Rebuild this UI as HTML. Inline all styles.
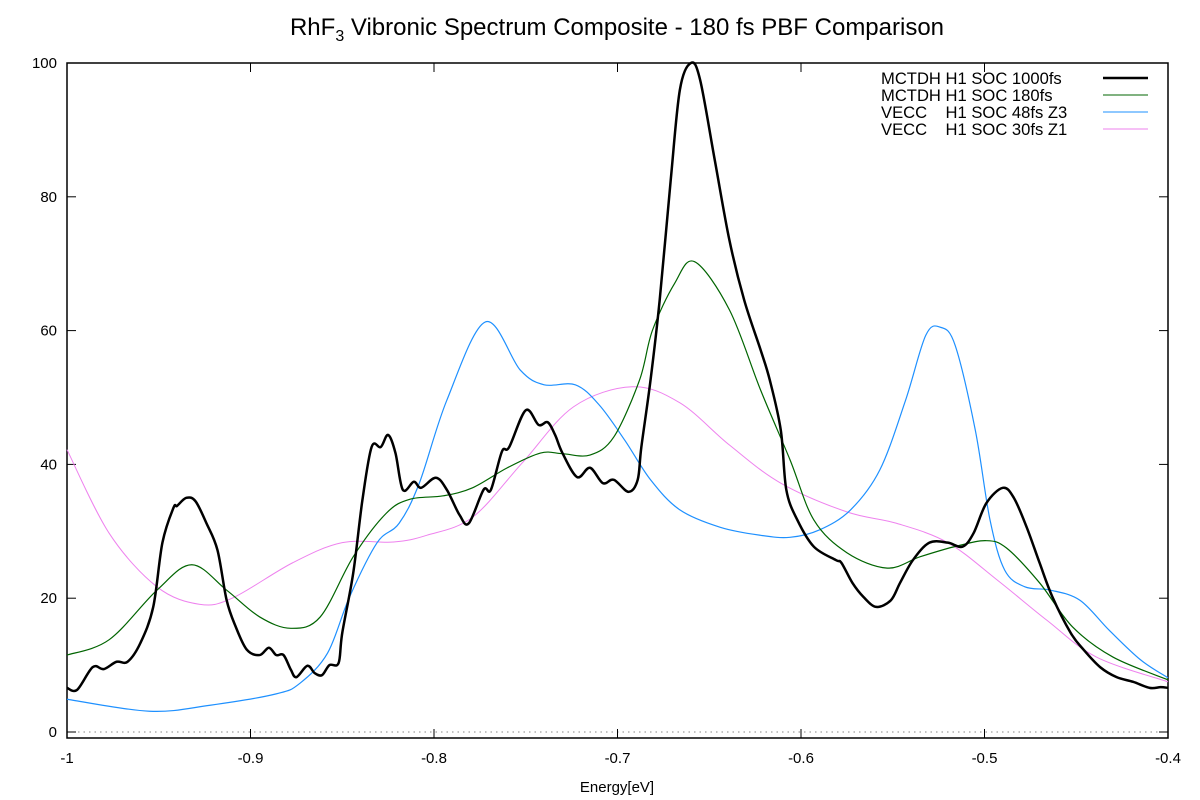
<!DOCTYPE html>
<html><head><meta charset="utf-8"><style>
body{margin:0;background:#fff}
svg{display:block;font-family:"Liberation Sans",sans-serif}
</style></head><body>
<svg id="chart" width="1200" height="800">
<text x="617" y="35" font-size="24" text-anchor="middle">RhF<tspan font-size="16" dy="6">3</tspan><tspan dy="-6"> Vibronic Spectrum Composite - 180 fs PBF Comparison</tspan></text>
<g id="axes"></g>
<g id="series"></g>
<g id="legend"></g>
<text x="617" y="792" font-size="15" text-anchor="middle">Energy[eV]</text>
</svg>
<script>
const xTicks=[-1,-0.9,-0.8,-0.7,-0.6,-0.5,-0.4];
const xTickLabels=["-1","-0.9","-0.8","-0.7","-0.6","-0.5","-0.4"];
const yTicks=[0,20,40,60,80,100];
const seriesNames=["MCTDH H1 SOC 1000fs","MCTDH H1 SOC 180fs","VECC    H1 SOC 48fs Z3","VECC    H1 SOC 30fs Z1"];
const blackE=[-1,-0.9945,-0.986,-0.980,-0.973,-0.967,-0.960,-0.953,-0.948,-0.942,-0.940,-0.935,-0.930,-0.924,-0.918,-0.913,-0.908,-0.902,-0.895,-0.890,-0.886,-0.882,-0.878,-0.875,-0.869,-0.865,-0.861,-0.857,-0.852,-0.850,-0.844,-0.839,-0.834,-0.829,-0.825,-0.821,-0.817,-0.811,-0.807,-0.799,-0.793,-0.786,-0.781,-0.773,-0.769,-0.763,-0.759,-0.750,-0.743,-0.738,-0.734,-0.730,-0.722,-0.715,-0.708,-0.702,-0.694,-0.689,-0.687,-0.682,-0.677,-0.671,-0.666,-0.660,-0.655,-0.647,-0.639,-0.631,-0.622,-0.617,-0.611,-0.608,-0.602,-0.593,-0.581,-0.578,-0.572,-0.566,-0.559,-0.551,-0.546,-0.539,-0.530,-0.520,-0.512,-0.506,-0.499,-0.490,-0.484,-0.477,-0.470,-0.463,-0.453,-0.446,-0.437,-0.428,-0.419,-0.410,-0.404,-0.400];
const blackV=[6.6,6.3,9.7,9.4,10.5,10.5,13.3,18.7,28.3,33.5,33.8,35.0,34.5,31.2,27.2,19.7,15.7,12.3,11.5,12.6,11.5,11.5,9.3,8.2,9.9,8.8,8.5,10.0,10.3,14.8,23.8,34.7,42.6,42.6,44.4,41.7,36.2,37.4,36.5,38.0,36.2,32.4,31.2,36.2,36.2,41.9,42.6,48.1,45.9,46.3,44.4,41.7,38.1,39.5,37.2,37.7,35.9,37.7,42.6,52.6,64.6,82.5,96.0,100,97.5,85.5,73.5,64.6,57.1,52.6,45.1,36.2,31.7,27.7,25.7,25.3,22.3,20.2,18.7,19.7,22.3,25.7,28.3,28.3,27.7,29.7,34.2,36.5,35.0,30.6,25.3,20.2,14.8,12.3,9.7,8.2,7.5,6.6,6.7,6.6];
const greenE=[-1,-0.977,-0.951,-0.932,-0.913,-0.895,-0.878,-0.862,-0.844,-0.826,-0.813,-0.795,-0.779,-0.760,-0.742,-0.730,-0.715,-0.702,-0.688,-0.681,-0.669,-0.658,-0.639,-0.622,-0.606,-0.593,-0.575,-0.553,-0.535,-0.515,-0.499,-0.488,-0.470,-0.452,-0.430,-0.400];
const greenV=[11.5,13.8,21.2,25.0,21.2,17.2,15.5,17.2,26.2,32.7,34.8,35.3,36.5,39.5,41.7,41.6,41.4,44.1,52.6,60,67,70.3,63.1,51.1,40.7,31.7,26.8,24.5,26.2,27.8,28.6,27.5,22.3,15.7,11.2,7.8];
const blueE=[-1,-0.955,-0.922,-0.886,-0.873,-0.858,-0.846,-0.831,-0.819,-0.808,-0.793,-0.772,-0.753,-0.740,-0.723,-0.710,-0.696,-0.682,-0.666,-0.644,-0.622,-0.606,-0.590,-0.573,-0.557,-0.543,-0.532,-0.524,-0.516,-0.505,-0.497,-0.489,-0.478,-0.464,-0.448,-0.432,-0.415,-0.400];
const blueV=[4.9,3.1,4.0,5.7,7.3,11.8,20.2,28.3,31.2,37.2,49.6,61.3,54.1,51.9,51.9,48.9,43.6,37.7,33.2,30.6,29.4,29.1,30.2,33.2,39.2,49.6,59.3,60.5,57.8,45.1,31.7,24.2,21.7,21.2,19.7,15.2,10.8,8.1];
const violetE=[-1,-0.977,-0.951,-0.928,-0.910,-0.877,-0.850,-0.822,-0.804,-0.779,-0.752,-0.724,-0.692,-0.666,-0.639,-0.611,-0.575,-0.548,-0.520,-0.493,-0.466,-0.439,-0.400];
const violetV=[42.2,29.7,21.7,19.1,20.0,25.3,28.3,28.4,29.4,32.1,40.2,48.6,51.6,49.2,42.9,37.2,32.9,31.2,28.3,22.7,16.7,11.2,7.5];

const L=67,R=1168,T=63,B=738,Y0=732;
const xs=e=>L+(e+1)/0.6*(R-L);
const ys=v=>Y0-v/100*(Y0-T);
const NS="http://www.w3.org/2000/svg";
function mk(tag,attrs,parent){const el=document.createElementNS(NS,tag);for(const k in attrs)el.setAttribute(k,attrs[k]);parent.appendChild(el);return el;}
const axes=document.getElementById('axes');
let frame=mk('rect',{x:L,y:T,width:R-L,height:B-T,fill:'none',stroke:'#000','stroke-width':1.5},axes);


let zl=mk('line',{x1:L,x2:R,y1:ys(0),y2:ys(0),stroke:'#888','stroke-dasharray':'1.5,4'},axes);


xTicks.forEach((t,i)=>{const x=xs(t);
 mk('line',{x1:x,x2:x,y1:B,y2:B-9,stroke:'#000'},axes);
 mk('line',{x1:x,x2:x,y1:T,y2:T+9,stroke:'#000'},axes);
 const tx=mk('text',{x:x,y:B+25,'font-size':15,'text-anchor':'middle'},axes);tx.textContent=xTickLabels[i];
 
 
});
yTicks.forEach(t=>{const y=ys(t);
 mk('line',{x1:L,x2:L+9,y1:y,y2:y,stroke:'#000'},axes);
 mk('line',{x1:R,x2:R-9,y1:y,y2:y,stroke:'#000'},axes);
 const tx=mk('text',{x:L-10,y:y+5,'font-size':15,'text-anchor':'end'},axes);tx.textContent=String(t);
 
 
});
function pathFor(E,V){const p=E.map((e,i)=>[xs(e),ys(V[i])]);let d='M'+p[0][0]+','+p[0][1];
 for(let i=0;i<p.length-1;i++){const p0=p[i-1]||p[i],p1=p[i],p2=p[i+1],p3=p[i+2]||p2;
  const c1=[p1[0]+(p2[0]-p0[0])/6,p1[1]+(p2[1]-p0[1])/6],c2=[p2[0]-(p3[0]-p1[0])/6,p2[1]-(p3[1]-p1[1])/6];
  d+=' C'+c1[0]+','+c1[1]+' '+c2[0]+','+c2[1]+' '+p2[0]+','+p2[1];}
 return d;}
const sg=document.getElementById('series');
const defs=[[violetE,violetV,'#ee82ee',1,'series-vecc-30fs'],[blueE,blueV,'#1e90ff',1.2,'series-vecc-48fs'],[greenE,greenV,'#006400',1.2,'series-mctdh-180fs'],[blackE,blackV,'#000',2.5,'series-mctdh-1000fs']];
defs.forEach(s=>{const p=mk('path',{d:pathFor(s[0],s[1]),fill:'none',stroke:s[2],'stroke-width':s[3],'stroke-linejoin':'round'},sg);
 
 
});
const lg=document.getElementById('legend');
const lcol=['#000','#006400','#1e90ff','#ee82ee'],lw=[2.5,1,1,1];
seriesNames.forEach((n,i)=>{const y=78+i*17;
 const g=mk('g',{},lg);
 
 
 const t=mk('text',{x:881,y:y+6,'font-size':16.6},g);t.textContent=n;t.style.whiteSpace='pre';
 mk('line',{x1:1103,x2:1148,y1:y,y2:y,stroke:lcol[i],'stroke-width':lw[i]},g);
});
</script>
</body></html>
